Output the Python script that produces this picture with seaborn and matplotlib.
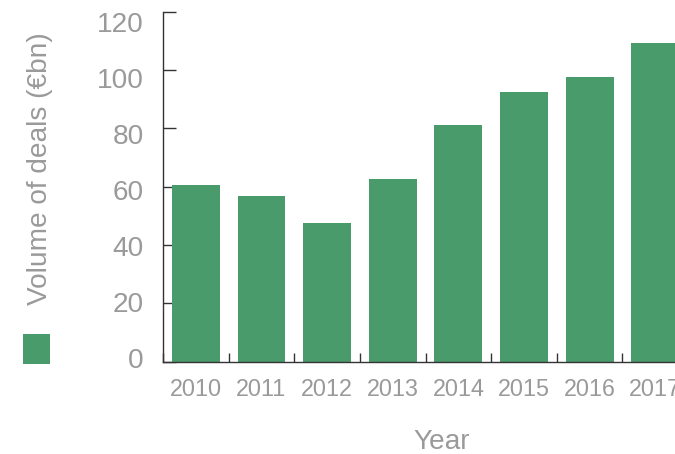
import matplotlib
matplotlib.use("Agg")
import matplotlib.pyplot as plt
import matplotlib.transforms as mtransforms
import seaborn as sns
import pandas as pd
from matplotlib.patches import Rectangle

years = ["2010", "2011", "2012", "2013", "2014", "2015", "2016", "2017"]
volumes = [60.5, 56.8, 47.5, 62.6, 81.2, 92.5, 97.6, 109.2]
y_ticks = [0, 20, 40, 60, 80, 100, 120]

BAR = "#4a9b6c"
TXT = "#9a9a9a"
AX = "#333333"

sns.set_theme(style="white")
plt.rcParams["font.family"] = ["Liberation Sans", "DejaVu Sans"]

df = pd.DataFrame({"Year": years, "Volume": volumes})

W, H = 675, 454
fig = plt.figure(figsize=(W / 100, H / 100), dpi=100)
ax = fig.add_axes([163 / W, 1 - 361.7 / H, (W - 163) / W, (361.7 - 11.7) / H])

sns.barplot(data=df, x="Year", y="Volume", color=BAR, saturation=1,
            width=0.73, ax=ax, linewidth=0)

ax.set_yticks(y_ticks)
ax.set_yticklabels([str(v) for v in y_ticks])

# x ticks at category boundaries
ax.set_xticks([i + 0.5 for i in range(-1, len(years))], minor=True)
ax.set_xticks(range(len(years)))
ax.set_xticklabels(years)

ax.set_xlim(-0.5, 7.3)
ax.set_ylim(0, 120)

for s in ["top", "right"]:
    ax.spines[s].set_visible(False)
for s in ["left", "bottom"]:
    ax.spines[s].set_color(AX)
    ax.spines[s].set_linewidth(1.0)

ax.tick_params(axis="y", direction="in", length=9.4, width=1, color=AX,
               labelsize=20.2, labelcolor=TXT, pad=14, left=True)
ax.tick_params(axis="x", which="major", length=0, labelsize=16.8,
               labelcolor=TXT, pad=12)
ax.tick_params(axis="x", which="minor", direction="in", length=6.5, width=1,
               color=AX, bottom=True)

# the reference's y labels sit on a slightly compressed scale vs. the ticks
for tick, v in zip(ax.yaxis.get_major_ticks(), y_ticks):
    shift_px = -3.7 + 0.115 * v
    lab = tick.label1
    lab.set_transform(lab.get_transform() +
                      mtransforms.ScaledTranslation(0, -shift_px / 100,
                                                    fig.dpi_scale_trans))

ax.set_xlabel("Year", fontsize=20.2, color=TXT)
ax.set_ylabel("Volume of deals (€bn)", fontsize=20.2, color=TXT)
ax.xaxis.set_label_coords((441.7 - 163) / (W - 163), (361.7 - 442) / 350)
ax.yaxis.set_label_coords((40 - 163) / (W - 163), (361.7 - 169) / 350)
ax.xaxis.label.set_va("center")
ax.yaxis.label.set_va("center")

# legend swatch (no label)
fig.add_artist(Rectangle((23 / W, 1 - 364 / H), 27 / W, 30 / H,
                         transform=fig.transFigure, facecolor=BAR,
                         edgecolor="none"))

fig.savefig("out.png", dpi=100)
